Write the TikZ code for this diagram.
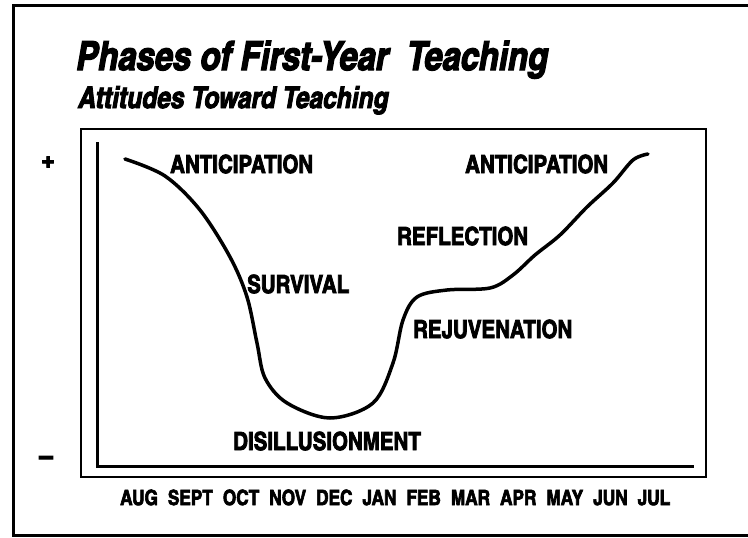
\documentclass[tikz,border=0pt]{standalone}
\usepackage{fontspec}
\usepackage{tikz}
\usetikzlibrary{positioning, calc}
\newfontfamily\heavy{texgyreheroscn-bold.otf}[FakeBold=3]
\newfontfamily\heavyit{texgyreheroscn-bolditalic.otf}[FakeBold=3]

\begin{document}
\begin{tikzpicture}[x=1pt, y=-1pt,
        phase/.style={font=\heavy\fontsize{25}{25}\selectfont, inner sep=0pt, anchor=base west},
        heading/.style={inner sep=0pt, anchor=base west}]
                \useasboundingbox (0,0) rectangle (748,538);
                % frame round the slide, open on the right
                \draw[line width=3pt] (748,5) -- (13,5) -- (13,535) -- (748,535);
                \node[heading, font=\heavyit\fontsize{40}{40}\selectfont] (title) at (76,70) {Phases of First-Year~ Teaching};
                \node[heading, font=\heavyit\fontsize{30}{30}\selectfont] (sub) at (78,108) {Attitudes Toward Teaching};
                % chart box and axes
                \draw[line width=2.5pt] (81,129) rectangle (706,477);
                \draw[line width=3pt] (97,142) -- (97,466) -- (694,466);
                \node[font=\heavy\fontsize{30}{30}\selectfont, inner sep=0pt] (plus) at (48,163) {+};
                \node[font=\heavy\fontsize{30}{30}\selectfont, inner sep=0pt] (minus) at (46,461) {–};
                % attitude curve
                \draw[line width=3.5pt, line cap=round] plot[smooth, tension=0.55] coordinates {
                        (125,159) (165,176) (200,210) (230,257) (247,297) (257,343) (265,378)
                        (287,403) (330,418) (373,403) (393,363) (403,320) (417,297) (447,290)
                        (490,288) (513,275) (535,255) (560,235) (587,207) (613,183) (633,160) (648,154)};
                \node[phase] (ant1) at (170,173) {ANTICIPATION};
                \node[phase] (surv) at (247,293) {SURVIVAL};
                \node[phase] (dis) at (233,450) {DISILLUSIONMENT};
                \node[phase] (rej) at (413,338) {REJUVENATION};
                \node[phase] (refl) at (397,245) {REFLECTION};
                \node[phase] (ant2) at (465,173) {ANTICIPATION};
                \node[phase, font=\heavy\fontsize{21}{21}\selectfont] (months) at (120,505)
                        {\makebox[550pt][s]{AUG SEPT OCT NOV DEC JAN FEB MAR APR MAY JUN JUL}};
        \end{tikzpicture}
\end{document}
